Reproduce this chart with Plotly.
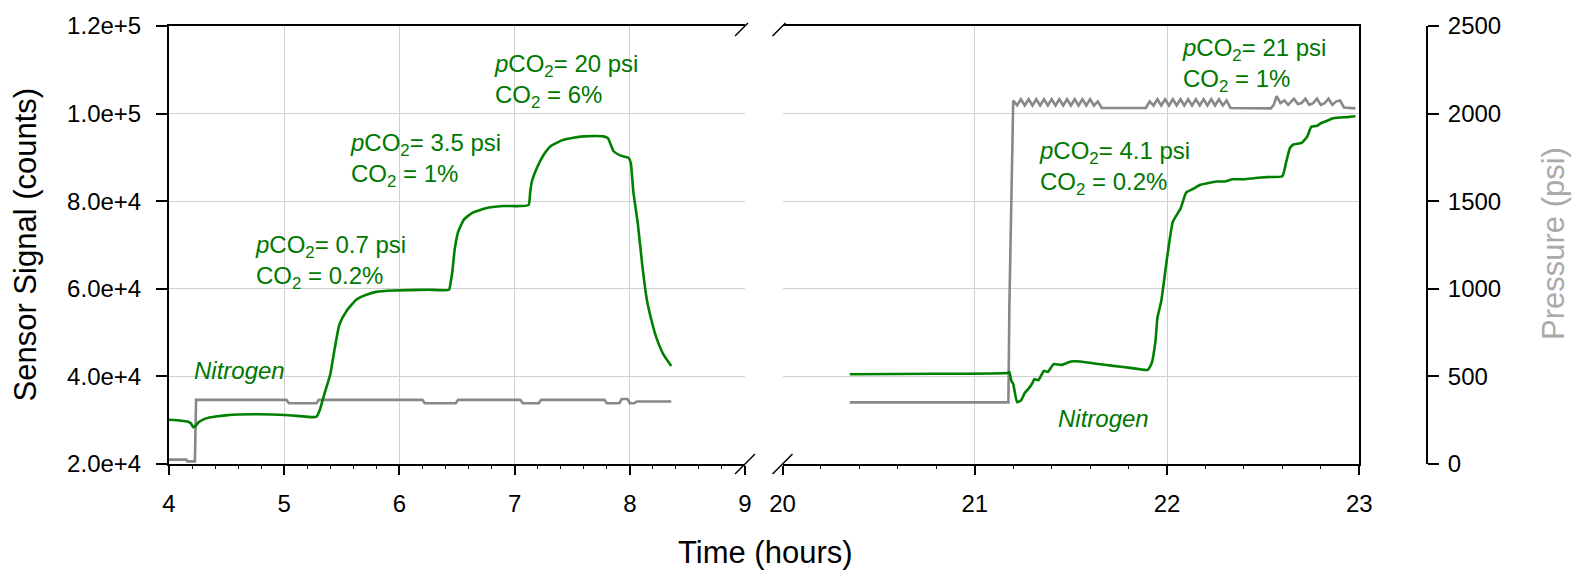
import plotly.graph_objects as go

# ---------------- data ----------------
# Left panel (hours 4-9): sensor signal (counts)
t_left_sig = [4.00, 4.10, 4.16, 4.19, 4.21, 4.23, 4.26, 4.30, 4.35, 4.42, 4.49, 4.60, 4.78, 5.00,
              5.25, 5.28, 5.31, 5.34, 5.37, 5.40, 5.44, 5.48, 5.54, 5.63, 5.72, 5.80, 5.95, 6.09, 6.25,
              6.43, 6.445, 6.46, 6.48, 6.51, 6.56, 6.63, 6.75, 6.90, 7.12, 7.135, 7.15, 7.20, 7.25,
              7.31, 7.42, 7.51, 7.60, 7.70, 7.77, 7.81, 7.86, 7.92, 7.99, 8.01, 8.03, 8.07, 8.11,
              8.15, 8.19, 8.23, 8.29, 8.36]
sig_left = [30100, 29900, 29700, 29300, 28400, 28700, 29600, 30200, 30600, 30900, 31100, 31300, 31350, 31200,
            30700, 30800, 32400, 35200, 37800, 40500, 46600, 51900, 54900, 57600, 58700, 59300, 59600, 59700, 59800,
            59800, 61500, 64000, 69000, 73000, 75800, 77300, 78400, 78900, 79100, 82000, 84500, 88000, 90500,
            92500, 94000, 94500, 94800, 94900, 94800, 94400, 91400, 90400, 89900, 88500, 82300, 74800, 65000,
            57200, 52600, 48900, 45100, 42400]

# Left panel: pressure (psi)
t_left_p = [4.00, 4.15, 4.16, 4.225, 4.235, 5.02, 5.04, 5.28, 5.30, 6.20, 6.22, 6.49, 6.51, 7.05, 7.07,
            7.21, 7.23, 7.78, 7.80, 7.91, 7.93, 7.98, 8.00, 8.04, 8.06, 8.36]
p_left = [25, 25, 15, 15, 366, 366, 347, 347, 366, 366, 347, 347, 366, 366, 347,
          347, 366, 366, 347, 347, 371, 371, 347, 347, 357, 357]

# Right panel (hours 20-23): sensor signal (counts)
t_right_sig = [20.35, 20.80, 21.17, 21.18, 21.19, 21.20, 21.22, 21.24, 21.26, 21.28, 21.30, 21.31, 21.33,
               21.36, 21.38, 21.41, 21.45, 21.50, 21.55, 21.63, 21.72, 21.80, 21.90, 21.92, 21.94, 21.95,
               21.97, 22.00, 22.03, 22.07, 22.10, 22.14, 22.17, 22.21, 22.26, 22.30, 22.34, 22.40, 22.46,
               22.52, 22.60, 22.62, 22.64, 22.66, 22.70, 22.73, 22.75, 22.78, 22.80, 22.83, 22.86, 22.90,
               22.94, 22.98]
sig_right = [40500, 40600, 40800, 41000, 39000, 38300, 34100, 34500, 36200, 37200, 38500, 39400, 39100,
             41300, 41000, 42800, 42600, 43400, 43400, 42900, 42400, 42000, 41500, 43000, 48100, 53400,
             57200, 67000, 75300, 78300, 82000, 82900, 83700, 84100, 84500, 84500, 85000, 85000, 85300,
             85500, 85700, 89000, 92200, 93000, 93300, 94800, 97000, 97200, 97800, 98300, 98900, 99100,
             99200, 99400]

# Right panel: pressure (psi)
t_right_p = [20.35, 21.175, 21.18, 21.19, 21.20,
             21.22, 21.24, 21.26, 21.28, 21.30, 21.32, 21.34, 21.36, 21.38, 21.40, 21.42, 21.44,
             21.46, 21.48, 21.50, 21.52, 21.54, 21.56, 21.58, 21.60, 21.62, 21.64, 21.66,
             21.89, 21.91, 21.93, 21.95, 21.97, 21.99, 22.01, 22.03, 22.05, 22.07, 22.09, 22.11,
             22.13, 22.15, 22.17, 22.19, 22.21, 22.23, 22.25, 22.27, 22.29, 22.31, 22.33,
             22.54, 22.555, 22.57, 22.59, 22.61, 22.63, 22.66, 22.68, 22.70, 22.72, 22.74, 22.76,
             22.78, 22.80, 22.82, 22.84, 22.86, 22.88, 22.90, 22.92, 22.98]
p_right = [352, 352, 900, 1500, 2075,
           2048, 2082, 2046, 2082, 2046, 2082, 2046, 2082, 2046, 2082, 2046, 2082,
           2046, 2082, 2046, 2082, 2046, 2082, 2046, 2082, 2046, 2070, 2032,
           2032, 2070, 2046, 2082, 2046, 2082, 2046, 2082, 2046, 2082, 2046, 2082,
           2046, 2082, 2046, 2082, 2046, 2082, 2046, 2082, 2046, 2075, 2032,
           2030, 2050, 2100, 2060, 2075, 2050, 2085, 2055, 2060, 2085, 2050, 2060,
           2085, 2050, 2060, 2085, 2050, 2070, 2075, 2035, 2030]

# ticks
left_x_ticks = [4, 5, 6, 7, 8, 9]
right_x_ticks = [20, 21, 22, 23]
sig_ticks = [20000, 40000, 60000, 80000, 100000, 120000]
sig_tick_text = ['2.0e+4', '4.0e+4', '6.0e+4', '8.0e+4', '1.0e+5', '1.2e+5']
p_ticks = [0, 500, 1000, 1500, 2000, 2500]

# ---------------- style ----------------
GREEN = 'rgb(0,128,0)'
TEXT_GREEN = 'rgb(0,120,0)'
GRAY = 'rgb(136,136,136)'
GRID = 'rgb(208,208,208)'
FONT = 'Liberation Sans, Arial, sans-serif'
TICK_FONT = dict(family=FONT, size=24, color='black')

L, R, T, B = 169, 150, 23, 110
W, H = 1577, 574
X1_DOM = [0.0, 0.45787]
X2_DOM = [0.48768, 0.94618]

fig = go.Figure()
# pressure traces on main axes (drawn below), signal on overlay axes (drawn on top)
fig.add_trace(go.Scatter(x=t_left_p, y=p_left, xaxis='x', yaxis='y', mode='lines',
                         line=dict(color=GRAY, width=2.6), showlegend=False, hoverinfo='skip'))
fig.add_trace(go.Scatter(x=t_right_p, y=p_right, xaxis='x2', yaxis='y2', mode='lines',
                         line=dict(color=GRAY, width=2.6), showlegend=False, hoverinfo='skip'))
fig.add_trace(go.Scatter(x=t_left_sig, y=sig_left, xaxis='x', yaxis='y3', mode='lines',
                         line=dict(color=GREEN, width=2.6, shape='spline', smoothing=0.5),
                         showlegend=False, hoverinfo='skip'))
fig.add_trace(go.Scatter(x=t_right_sig, y=sig_right, xaxis='x2', yaxis='y4', mode='lines',
                         line=dict(color=GREEN, width=2.6, shape='spline', smoothing=0.4),
                         showlegend=False, hoverinfo='skip'))

common_x = dict(showline=True, linecolor='black', linewidth=2, mirror=True,
                ticks='outside', ticklen=9, tickwidth=2, tickcolor='black',
                showgrid=True, gridcolor=GRID, gridwidth=1, zeroline=False,
                tickfont=TICK_FONT, ticklabelstandoff=8,
                minor=dict(dtick=0.2, ticks='outside', ticklen=3, tickwidth=1,
                           tickcolor='black', showgrid=False))

fig.update_layout(
    width=W, height=H,
    margin=dict(l=L, r=R, t=T, b=B, pad=0),
    paper_bgcolor='white', plot_bgcolor='white',
    font=dict(family=FONT, color='black'),
    xaxis=dict(domain=X1_DOM, range=[4, 9], anchor='y', tickvals=left_x_ticks, **common_x),
    xaxis2=dict(domain=X2_DOM, range=[20, 23], anchor='y2', tickvals=right_x_ticks, **common_x),
    # pressure, left panel (hidden)
    yaxis=dict(domain=[0, 1], range=[0, 2500], anchor='x', visible=False, showgrid=False),
    # pressure, right axis (free)
    yaxis2=dict(domain=[0, 1], range=[0, 2500], anchor='free', position=1.0, side='right',
                tickvals=p_ticks, showline=True, linecolor='black', linewidth=2,
                ticks='outside', ticklen=11, tickwidth=2, tickcolor='black',
                showgrid=False, zeroline=False, tickfont=TICK_FONT, ticklabelstandoff=4),
    # signal, left panel
    yaxis3=dict(range=[20000, 120000], overlaying='y', anchor='x', side='left',
                tickvals=sig_ticks, ticktext=sig_tick_text,
                showline=True, linecolor='black', linewidth=2, mirror=False,
                ticks='outside', ticklen=11, tickwidth=2, tickcolor='black',
                showgrid=True, gridcolor=GRID, gridwidth=1, zeroline=False,
                tickfont=TICK_FONT, ticklabelstandoff=10),
    # signal, right panel
    yaxis4=dict(range=[20000, 120000], overlaying='y2', anchor='x2', side='right',
                tickvals=sig_ticks, showticklabels=False,
                showline=True, linecolor='black', linewidth=2, mirror=False, ticks='',
                showgrid=True, gridcolor=GRID, gridwidth=1, zeroline=False),
)

# axis-break slashes
brk = dict(color='black', width=1.5)
for xa in (X1_DOM[1], X2_DOM[0]):
    fig.add_shape(type='line', xref='paper', yref='paper', xsizemode='pixel', ysizemode='pixel',
                  xanchor=xa, yanchor=0, x0=-10, x1=10, y0=-10, y1=10, line=brk)
    fig.add_shape(type='line', xref='paper', yref='paper', xsizemode='pixel', ysizemode='pixel',
                  xanchor=xa, yanchor=1, x0=-10, x1=3, y0=-10, y1=3, line=brk)

# axis titles
fig.add_annotation(text='Time (hours)', xref='paper', yref='paper', x=0.47377, y=-0.20181,
                   xanchor='center', yanchor='middle', showarrow=False,
                   font=dict(family=FONT, size=31, color='black'))
fig.add_annotation(text='Sensor Signal (counts)', xref='paper', yref='paper', x=-0.1137, y=0.50113,
                   xanchor='center', yanchor='middle', textangle=-90, showarrow=False,
                   font=dict(family=FONT, size=31, color='black'))
fig.add_annotation(text='Pressure (psi)', xref='paper', yref='paper', x=1.10016, y=0.50227,
                   xanchor='center', yanchor='middle', textangle=-90, showarrow=False,
                   font=dict(family=FONT, size=31, color='rgb(170,170,170)'))

# in-plot labels (two-line labels centred between their lines)
AF = dict(family=FONT, size=24, color=TEXT_GREEN)
labels = [
    ('x', 'y3', 4.730, 66025, '<i>p</i>CO<sub>2</sub>= 0.7 psi<br>CO<sub>2</sub> = 0.2%', 'left'),
    ('x', 'y3', 5.555, 89300, '<i>p</i>CO<sub>2</sub>= 3.5 psi<br>CO<sub>2</sub> = 1%', 'left'),
    ('x', 'y3', 6.802, 107410, '<i>p</i>CO<sub>2</sub>= 20 psi<br>CO<sub>2</sub> = 6%', 'left'),
    ('x2', 'y4', 21.322, 87600, '<i>p</i>CO<sub>2</sub>= 4.1 psi<br>CO<sub>2</sub> = 0.2%', 'left'),
    ('x2', 'y4', 22.067, 110986, '<i>p</i>CO<sub>2</sub>= 21 psi<br>CO<sub>2</sub> = 1%', 'left'),
    ('x', 'y3', 4.610, 41390, '<i>Nitrogen</i>', 'center'),
    ('x2', 'y4', 21.669, 30490, '<i>Nitrogen</i>', 'center'),
]
for xr, yr, x, y, txt, xan in labels:
    fig.add_annotation(text=txt, xref=xr, yref=yr, x=x, y=y, xanchor=xan, yanchor='middle',
                       align='left', showarrow=False, font=AF)

fig.write_html('out.html')
